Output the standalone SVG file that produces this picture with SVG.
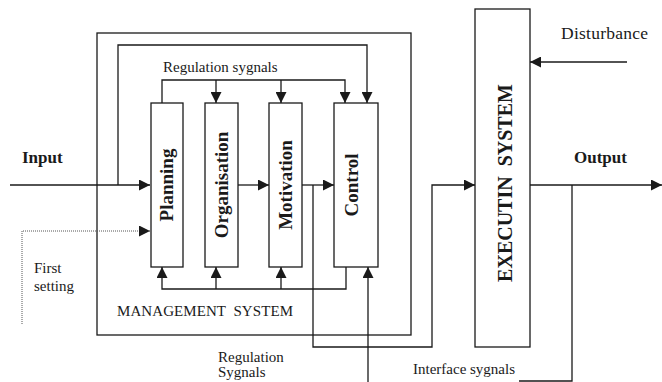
<svg xmlns="http://www.w3.org/2000/svg" width="662" height="382" viewBox="0 0 662 382">
<defs>
<style>
.l{fill:none;stroke:#1a1a1a;stroke-width:1.3}
.b{fill:#fff;stroke:#1a1a1a;stroke-width:1.3}
.d{fill:none;stroke:#555;stroke-width:1;stroke-dasharray:1 1}
.t{font-family:"Liberation Serif","Times New Roman",serif;font-size:15px;fill:#1a1a1a}
.bt{font-family:"Liberation Serif","Times New Roman",serif;font-size:19px;font-weight:bold;fill:#1a1a1a;text-anchor:middle}
.ht{font-family:"Liberation Serif","Times New Roman",serif;font-size:17px;font-weight:bold;fill:#1a1a1a}
</style>
<marker id="a" viewBox="0 0 11 11" refX="11" refY="5.5" markerWidth="11" markerHeight="11" markerUnits="userSpaceOnUse" orient="auto">
<path d="M0,0L11,5.5L0,11Z" fill="#1a1a1a"/>
</marker>
</defs>
<rect width="662" height="382" fill="#fff"/>
<g id="management-system">
<rect class="b" x="97" y="33" width="314" height="302"/>
<text class="t" x="117" y="316" textLength="176" xml:space="preserve">MANAGEMENT  SYSTEM</text>
</g>
<g id="planning">
<rect class="b" x="151" y="103" width="32" height="164"/>
<text class="bt" transform="translate(173,185) rotate(-90)">Planning</text>
</g>
<g id="organisation">
<rect class="b" x="205" y="103" width="33" height="164"/>
<text class="bt" transform="translate(228,185) rotate(-90)">Organisation</text>
</g>
<g id="motivation">
<rect class="b" x="269" y="103" width="33" height="164"/>
<text class="bt" transform="translate(292,185) rotate(-90)">Motivation</text>
</g>
<g id="control">
<rect class="b" x="334" y="103" width="44" height="164"/>
<text class="bt" transform="translate(358,185) rotate(-90)">Control</text>
</g>
<g id="executin-system">
<rect class="b" x="475" y="9" width="55" height="338"/>
<text class="bt" style="font-size:20px" transform="translate(512,183) rotate(-90)">EXECUTIN&#160; SYSTEM</text>
</g>
<g id="connectors">
<path class="l" d="M10,185H150" marker-end="url(#a)"/>
<path class="l" d="M118,185V45H367V103" marker-end="url(#a)"/>
<path class="l" d="M162,103V80H345V103" marker-end="url(#a)"/>
<path class="l" d="M216,80V103" marker-end="url(#a)"/>
<path class="l" d="M281,80V103" marker-end="url(#a)"/>
<path class="l" d="M238,185H269" marker-end="url(#a)"/>
<path class="l" d="M302,185H334" marker-end="url(#a)"/>
<path class="l" d="M313,185V347H432V185H475" marker-end="url(#a)"/>
<path class="l" d="M346,267V289H162V267" marker-end="url(#a)"/>
<path class="l" d="M216,289V267" marker-end="url(#a)"/>
<path class="l" d="M281,289V267" marker-end="url(#a)"/>
<path class="l" d="M368,382V267" marker-end="url(#a)"/>
<path class="l" d="M627,62H530" marker-end="url(#a)"/>
<path class="l" d="M530,185H662" marker-end="url(#a)"/>
<path class="l" d="M572,185V381H519"/>
<path class="d" d="M22,324V231H150" marker-end="url(#a)"/>
</g>
<g id="labels">
<text class="ht" x="22" y="163">Input</text>
<text class="ht" x="574" y="163">Output</text>
<text class="t" x="561" y="39" textLength="87" style="font-size:17.5px">Disturbance</text>
<text class="t" x="163" y="72">Regulation sygnals</text>
<text class="t" x="34" y="273">First</text>
<text class="t" x="34" y="291">setting</text>
<text class="t" x="218" y="362">Regulation</text>
<text class="t" x="218" y="377">Sygnals</text>
<text class="t" x="413" y="374">Interface sygnals</text>
</g>
</svg>
